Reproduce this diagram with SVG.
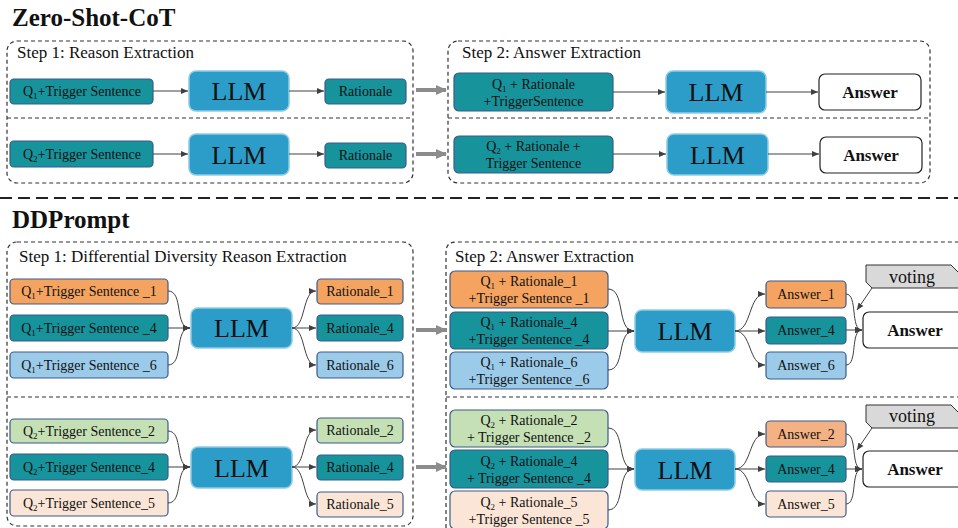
<svg xmlns="http://www.w3.org/2000/svg" width="958" height="528" viewBox="0 0 958 528">
<defs>
<marker id="ah" markerWidth="8" markerHeight="8" refX="7" refY="4" orient="auto" markerUnits="userSpaceOnUse">
<path d="M0,1 L7,4 L0,7 Z" fill="#404040"/>
</marker>
<marker id="gh" markerWidth="12" markerHeight="12" refX="10" refY="6" orient="auto" markerUnits="userSpaceOnUse">
<path d="M0,1 L11,6 L0,11 Z" fill="#8c8c8c"/>
</marker>
<style>
text{font-family:"Liberation Serif","Times New Roman",serif;fill:#111}
.title{font-size:25px;font-weight:bold}
.step{font-size:17px}
.vt{font-size:18px;text-anchor:middle}
.frame{fill:none;stroke:#333;stroke-width:1.2;stroke-dasharray:4 3}
.div{stroke:#333;stroke-width:1.2;stroke-dasharray:4 3}
.sep{stroke:#222;stroke-width:2;stroke-dasharray:12 6}
.box{stroke:#3a5a8c;stroke-width:1.2}
.teal{fill:#17939c}
.org{fill:#f4a460}
.org2{fill:#f4b183}
.lb{fill:#9ccbea}
.gr{fill:#c5e0b4}
.pe{fill:#fbe5d6}
.wh{fill:#fff;stroke:#222;stroke-width:1.2}
.llm{fill:#2b9dc8;stroke:#8fcbe5;stroke-width:1.5}
.llmt{font-size:26px;text-anchor:middle}
.t{font-family:"Liberation Serif","Times New Roman",serif;font-size:14px;text-anchor:middle}
.ans{font-size:17px;font-weight:bold;text-anchor:middle}
.sub{font-size:9px}
.c{fill:none;stroke:#404040;stroke-width:1;marker-end:url(#ah)}
.g{fill:none;stroke:#8c8c8c;stroke-width:4;marker-end:url(#gh)}
.vote{fill:#d9d9d9;stroke:#333;stroke-width:1}
</style>
</defs>

<!-- ===== Zero-Shot-CoT ===== -->
<text class="title" x="12" y="26">Zero-Shot-CoT</text>
<g id="zs-step1">
<rect class="frame" x="7" y="41" width="406" height="142" rx="10"/>
<line class="div" x1="7" y1="118" x2="413" y2="118"/>
<text class="step" x="17" y="58">Step 1: Reason Extraction</text>
</g>
<g id="zs-step2">
<rect class="frame" x="448" y="41" width="482" height="142" rx="10"/>
<line class="div" x1="448" y1="118" x2="930" y2="118"/>
<text class="step" x="462" y="58">Step 2: Answer Extraction</text>
</g>

<g id="zs-q1"><rect class="box teal" x="10" y="79" width="143" height="25" rx="4"/>
<text class="t" x="82" y="96">Q<tspan class="sub" dy="3">1</tspan><tspan dy="-3">+Trigger Sentence</tspan></text></g>
<g id="zs-llm1"><rect class="llm" x="189" y="71" width="100" height="40" rx="7"/><text class="llmt" x="239" y="100">LLM</text></g>
<g id="zs-r1"><rect class="box teal" x="325" y="79" width="81" height="25" rx="4"/><text class="t" x="365.5" y="96">Rationale</text></g>

<g id="zs-q2"><rect class="box teal" x="10" y="141" width="143" height="26" rx="4"/>
<text class="t" x="82" y="159">Q<tspan class="sub" dy="3">2</tspan><tspan dy="-3">+Trigger Sentence</tspan></text></g>
<g id="zs-llm2"><rect class="llm" x="189" y="134" width="100" height="41" rx="7"/><text class="llmt" x="239" y="164">LLM</text></g>
<g id="zs-r2"><rect class="box teal" x="325" y="143" width="81" height="25" rx="4"/><text class="t" x="365.5" y="160">Rationale</text></g>

<g id="zs-a-in1"><rect class="box teal" x="454" y="73" width="159" height="38" rx="5"/>
<text class="t" x="533.5" y="89">Q<tspan class="sub" dy="3">1</tspan><tspan dy="-3"> + Rationale</tspan></text>
<text class="t" x="533.5" y="106">+TriggerSentence</text></g>
<g id="zs-llm3"><rect class="llm" x="666" y="71" width="100" height="42" rx="7"/><text class="llmt" x="716" y="101">LLM</text></g>
<g id="zs-ans1"><rect class="wh" x="819" y="74" width="102" height="36" rx="6"/><text class="ans" x="870" y="98">Answer</text></g>

<g id="zs-a-in2"><rect class="box teal" x="454" y="136" width="159" height="37" rx="5"/>
<text class="t" x="533.5" y="151">Q<tspan class="sub" dy="3">2</tspan><tspan dy="-3"> + Rationale +</tspan></text>
<text class="t" x="533.5" y="168">Trigger Sentence</text></g>
<g id="zs-llm4"><rect class="llm" x="667" y="134" width="101" height="41" rx="7"/><text class="llmt" x="717.5" y="164">LLM</text></g>
<g id="zs-ans2"><rect class="wh" x="820" y="137" width="102" height="36" rx="6"/><text class="ans" x="871" y="161">Answer</text></g>

<line class="sep" x1="0" y1="198" x2="958" y2="198"/>

<!-- ===== DDPrompt ===== -->
<text class="title" x="12" y="228">DDPrompt</text>
<g id="dd-step1">
<rect class="frame" x="7" y="242" width="406" height="284" rx="10"/>
<line class="div" x1="7" y1="397" x2="413" y2="397"/>
<text class="step" x="19" y="262">Step 1: Differential Diversity Reason Extraction</text>
</g>
<g id="dd-step2">
<path class="frame" d="M446,528 L446,252 Q446,242 456,242 L962,242"/>
<line class="div" x1="446" y1="397" x2="958" y2="397"/>
<text class="step" x="455" y="262">Step 2: Answer Extraction</text>
</g>

<!-- step1 upper -->
<g id="dd-q1-1"><rect class="box org" x="10" y="279" width="158" height="25" rx="4"/>
<text class="t" x="89" y="296">Q<tspan class="sub" dy="3">1</tspan><tspan dy="-3">+Trigger Sentence _1</tspan></text></g>
<g id="dd-q1-4"><rect class="box teal" x="10" y="315" width="158" height="26" rx="4"/>
<text class="t" x="89" y="333">Q<tspan class="sub" dy="3">1</tspan><tspan dy="-3">+Trigger Sentence _4</tspan></text></g>
<g id="dd-q1-6"><rect class="box lb" x="10" y="352" width="158" height="26" rx="4"/>
<text class="t" x="89" y="370">Q<tspan class="sub" dy="3">1</tspan><tspan dy="-3">+Trigger Sentence _6</tspan></text></g>
<g id="dd-llm1"><rect class="llm" x="191" y="308" width="101" height="40" rx="7"/><text class="llmt" x="241.5" y="337">LLM</text></g>
<g id="dd-r1"><rect class="box org" x="317" y="279" width="86" height="25" rx="4"/><text class="t" x="360" y="296">Rationale_1</text></g>
<g id="dd-r4"><rect class="box teal" x="317" y="315" width="86" height="26" rx="4"/><text class="t" x="360" y="333">Rationale_4</text></g>
<g id="dd-r6"><rect class="box lb" x="317" y="352" width="86" height="26" rx="4"/><text class="t" x="360" y="370">Rationale_6</text></g>

<!-- step1 lower -->
<g id="dd-q2-2"><rect class="box gr" x="10" y="419" width="158" height="24" rx="4"/>
<text class="t" x="89" y="436">Q<tspan class="sub" dy="3">2</tspan><tspan dy="-3">+Trigger Sentence_2</tspan></text></g>
<g id="dd-q2-4"><rect class="box teal" x="10" y="454" width="158" height="26" rx="4"/>
<text class="t" x="89" y="472">Q<tspan class="sub" dy="3">2</tspan><tspan dy="-3">+Trigger Sentence_4</tspan></text></g>
<g id="dd-q2-5"><rect class="box pe" x="10" y="490" width="158" height="26" rx="4"/>
<text class="t" x="89" y="508">Q<tspan class="sub" dy="3">2</tspan><tspan dy="-3">+Trigger Sentence_5</tspan></text></g>
<g id="dd-llm2"><rect class="llm" x="191" y="447" width="101" height="41" rx="7"/><text class="llmt" x="241.5" y="477">LLM</text></g>
<g id="dd-r2"><rect class="box gr" x="317" y="418" width="86" height="25" rx="4"/><text class="t" x="360" y="435">Rationale_2</text></g>
<g id="dd-r4b"><rect class="box teal" x="317" y="455" width="86" height="25" rx="4"/><text class="t" x="360" y="472">Rationale_4</text></g>
<g id="dd-r5"><rect class="box pe" x="317" y="492" width="86" height="25" rx="4"/><text class="t" x="360" y="509">Rationale_5</text></g>

<!-- step2 upper -->
<g id="dd-a1"><rect class="box org" x="450" y="271" width="158" height="37" rx="5"/>
<text class="t" x="529" y="286">Q<tspan class="sub" dy="3">1</tspan><tspan dy="-3"> + Rationale_1</tspan></text>
<text class="t" x="529" y="303">+Trigger Sentence _1</text></g>
<g id="dd-a4"><rect class="box teal" x="450" y="312" width="158" height="37" rx="5"/>
<text class="t" x="529" y="327">Q<tspan class="sub" dy="3">1</tspan><tspan dy="-3"> + Rationale_4</tspan></text>
<text class="t" x="529" y="344">+Trigger Sentence _4</text></g>
<g id="dd-a6"><rect class="box lb" x="450" y="352" width="158" height="37" rx="5"/>
<text class="t" x="529" y="367">Q<tspan class="sub" dy="3">1</tspan><tspan dy="-3"> + Rationale_6</tspan></text>
<text class="t" x="529" y="384">+Trigger Sentence _6</text></g>
<g id="dd-llm3"><rect class="llm" x="635" y="310" width="100" height="42" rx="7"/><text class="llmt" x="685" y="340">LLM</text></g>
<g id="dd-ans1"><rect class="box org" x="766" y="281" width="80" height="27" rx="4"/><text class="t" x="806" y="299">Answer_1</text></g>
<g id="dd-ans4"><rect class="box teal" x="766" y="317" width="80" height="27" rx="4"/><text class="t" x="806" y="335">Answer_4</text></g>
<g id="dd-ans6"><rect class="box lb" x="766" y="352" width="80" height="27" rx="4"/><text class="t" x="806" y="370">Answer_6</text></g>
<g id="dd-vote1"><path class="vote" d="M866,265 L951,265 L962,276 L962,288 L872,288 L866,282 Z"/><text class="vt" x="912" y="283">voting</text></g>
<g id="dd-final1"><rect class="wh" x="863" y="312" width="100" height="36" rx="6"/><text class="ans" x="915" y="336">Answer</text></g>

<!-- step2 lower -->
<g id="dd-b2"><rect class="box gr" x="450" y="410" width="158" height="37" rx="5"/>
<text class="t" x="529" y="425">Q<tspan class="sub" dy="3">2</tspan><tspan dy="-3"> + Rationale_2</tspan></text>
<text class="t" x="529" y="442">+ Trigger Sentence _2</text></g>
<g id="dd-b4"><rect class="box teal" x="450" y="450" width="158" height="38" rx="5"/>
<text class="t" x="529" y="466">Q<tspan class="sub" dy="3">2</tspan><tspan dy="-3"> + Rationale_4</tspan></text>
<text class="t" x="529" y="483">+ Trigger Sentence _4</text></g>
<g id="dd-b5"><rect class="box pe" x="450" y="491" width="158" height="38" rx="5"/>
<text class="t" x="529" y="507">Q<tspan class="sub" dy="3">2</tspan><tspan dy="-3"> + Rationale_5</tspan></text>
<text class="t" x="529" y="524">+Trigger Sentence _5</text></g>
<g id="dd-llm4"><rect class="llm" x="635" y="449" width="100" height="41" rx="7"/><text class="llmt" x="685" y="479">LLM</text></g>
<g id="dd-ans2"><rect class="box org2" x="766" y="421" width="80" height="26" rx="4"/><text class="t" x="806" y="439">Answer_2</text></g>
<g id="dd-ans4b"><rect class="box teal" x="766" y="456" width="80" height="26" rx="4"/><text class="t" x="806" y="474">Answer_4</text></g>
<g id="dd-ans5"><rect class="box pe" x="766" y="491" width="80" height="26" rx="4"/><text class="t" x="806" y="509">Answer_5</text></g>
<g id="dd-vote2"><path class="vote" d="M866,405 L951,405 L962,416 L962,428 L872,428 L866,422 Z"/><text class="vt" x="912" y="422">voting</text></g>
<g id="dd-final2"><rect class="wh" x="863" y="451" width="100" height="36" rx="6"/><text class="ans" x="915" y="475">Answer</text></g>

<!-- ===== connectors ===== -->
<g id="connectors">
<path class="c" d="M153,91 L188,91"/>
<path class="c" d="M289,91 L324,91"/>
<path class="c" d="M153,154 L188,154"/>
<path class="c" d="M289,154 L324,154"/>
<path class="c" d="M613,92 L665,92"/>
<path class="c" d="M766,92 L818,92"/>
<path class="c" d="M613,154 L666,154"/>
<path class="c" d="M768,154 L819,154"/>
<path class="g" d="M416,90 L446,90"/>
<path class="g" d="M416,154 L446,154"/>
<path class="g" d="M416,330 L446,330"/>
<path class="g" d="M416,467 L446,467"/>

<path class="c" d="M168,291 C184,291 174,328 190,328"/>
<path class="c" d="M168,328 L190,328"/>
<path class="c" d="M168,365 C184,365 174,328 190,328"/>
<path class="c" d="M292,328 C306,328 302,291 316,291"/>
<path class="c" d="M292,328 L316,328"/>
<path class="c" d="M292,328 C306,328 302,365 316,365"/>

<path class="c" d="M168,431 C184,431 174,467 190,467"/>
<path class="c" d="M168,467 L190,467"/>
<path class="c" d="M168,503 C184,503 174,467 190,467"/>
<path class="c" d="M292,467 C306,467 302,430 316,430"/>
<path class="c" d="M292,467 L316,467"/>
<path class="c" d="M292,467 C306,467 302,504 316,504"/>

<path class="c" d="M608,289 C626,289 616,331 634,331"/>
<path class="c" d="M608,331 L634,331"/>
<path class="c" d="M608,370 C626,370 616,331 634,331"/>
<path class="c" d="M735,331 C752,331 748,294 765,294"/>
<path class="c" d="M735,331 L765,331"/>
<path class="c" d="M735,331 C752,331 748,365 765,365"/>
<path class="c" d="M846,294 C858,294 850,330 862,330"/>
<path class="c" d="M846,330 L862,330"/>
<path class="c" d="M846,365 C858,365 850,330 862,330"/>
<path class="c" d="M872,288 L857,310"/>

<path class="c" d="M608,428 C626,428 616,469 634,469"/>
<path class="c" d="M608,469 L634,469"/>
<path class="c" d="M608,510 C626,510 616,469 634,469"/>
<path class="c" d="M735,469 C752,469 748,434 765,434"/>
<path class="c" d="M735,469 L765,469"/>
<path class="c" d="M735,469 C752,469 748,504 765,504"/>
<path class="c" d="M846,434 C858,434 850,469 862,469"/>
<path class="c" d="M846,469 L862,469"/>
<path class="c" d="M846,504 C858,504 850,469 862,469"/>
<path class="c" d="M872,428 L857,450"/>
</g>
</svg>
